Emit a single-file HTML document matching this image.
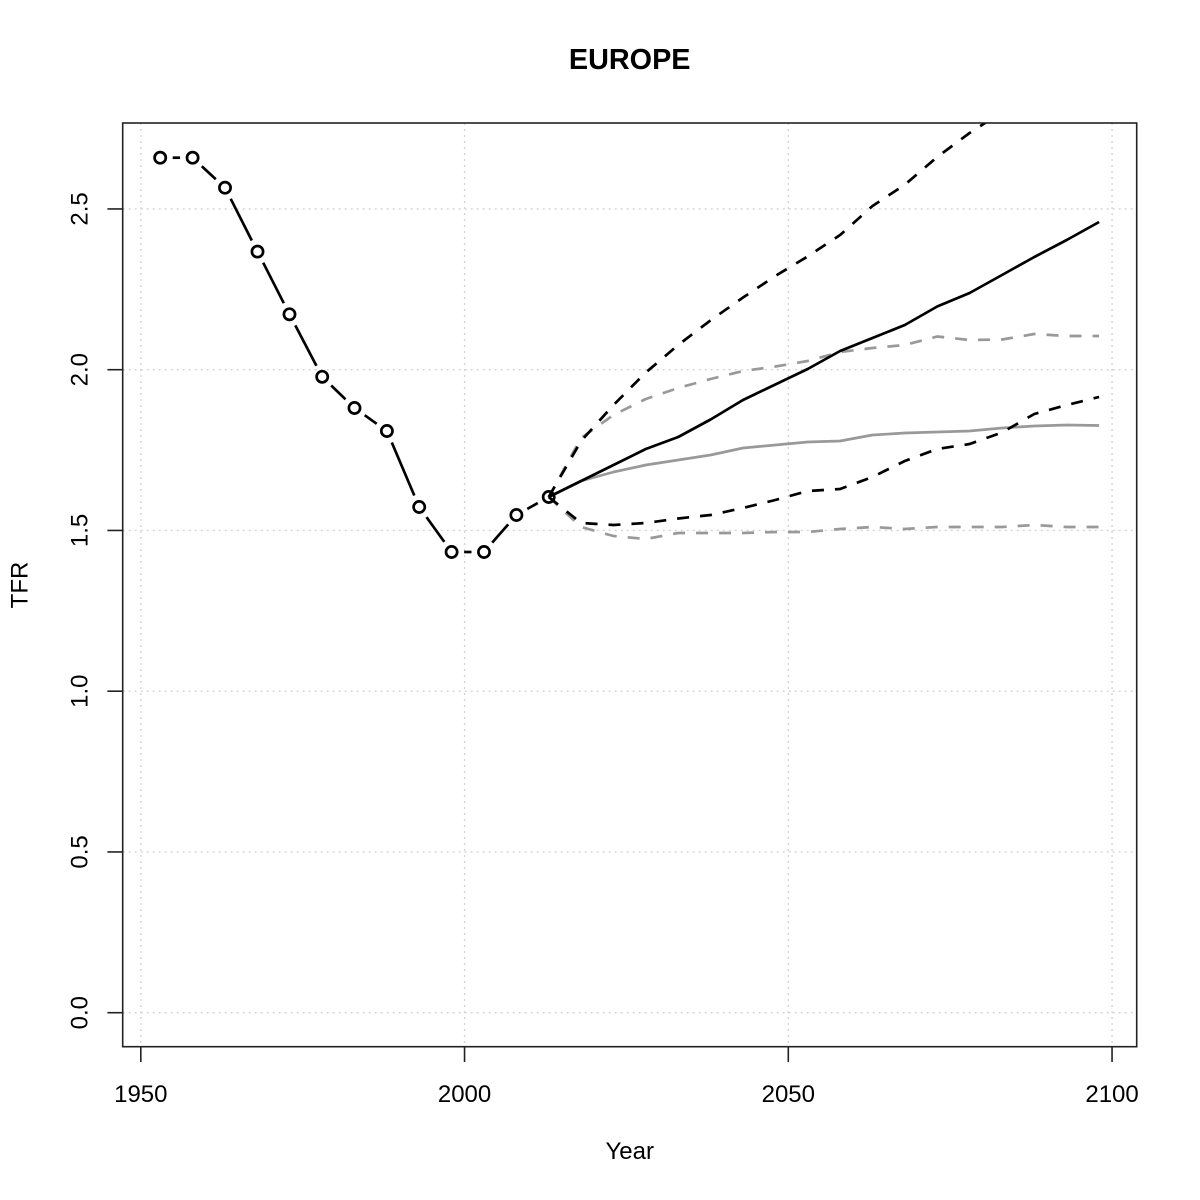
<!DOCTYPE html>
<html>
<head>
<meta charset="utf-8">
<style>
html,body{margin:0;padding:0;background:#fff;}
svg{display:block;}
text{font-family:"Liberation Sans",Arial,sans-serif;fill:#000;}
</style>
</head>
<body>
<svg width="1200" height="1200" viewBox="0 0 1200 1200" xmlns="http://www.w3.org/2000/svg">
<rect x="0" y="0" width="1200" height="1200" fill="#fff"/>
<defs>
<clipPath id="pc"><rect x="122.7" y="123" width="1014" height="923.7"/></clipPath>
</defs>

<!-- grid -->
<g stroke="#d3d3d3" stroke-width="1.3" stroke-dasharray="2 4" fill="none">
<line x1="140.8" y1="123" x2="140.8" y2="1046.7"/>
<line x1="464.55" y1="123" x2="464.55" y2="1046.7"/>
<line x1="788.3" y1="123" x2="788.3" y2="1046.7"/>
<line x1="1112.05" y1="123" x2="1112.05" y2="1046.7"/>
<line x1="122.7" y1="1012.7" x2="1136.7" y2="1012.7"/>
<line x1="122.7" y1="851.95" x2="1136.7" y2="851.95"/>
<line x1="122.7" y1="691.2" x2="1136.7" y2="691.2"/>
<line x1="122.7" y1="530.45" x2="1136.7" y2="530.45"/>
<line x1="122.7" y1="369.7" x2="1136.7" y2="369.7"/>
<line x1="122.7" y1="208.95" x2="1136.7" y2="208.95"/>
</g>

<!-- projections -->
<g clip-path="url(#pc)" fill="none" stroke-width="2.7" stroke-linejoin="round">
<!-- gray solid -->
<polyline stroke="#999" points="548.7,497 581.1,481 613.5,472 645.8,465 678.2,460 710.6,455 743,448 775.3,445 807.7,442 840.1,441 872.5,435 904.8,433 937.2,432 969.6,431 1002,428 1034.3,426 1066.7,425 1099.1,425.5"/>
<!-- gray dashed upper -->
<polyline stroke="#999" stroke-dasharray="12 11" points="548.7,497 581.1,438 613.5,415 645.8,399 678.2,388 710.6,379 743,371 775.3,366.5 807.7,361 840.1,352 872.5,348 904.8,345 937.2,336.5 969.6,340 1002,339.5 1034.3,334 1066.7,336 1099.1,336"/>
<!-- gray dashed lower -->
<polyline stroke="#999" stroke-dasharray="12 11" points="548.7,497 581.1,527 613.5,536 645.8,539 678.2,533 710.6,533 743,533 775.3,532 807.7,532 840.1,529 872.5,527 904.8,529 937.2,527 969.6,527 1002,527 1034.3,525 1066.7,527 1099.1,527"/>
<!-- black median -->
<polyline stroke="#000" points="548.7,497 581.1,481 613.5,465 645.8,449 678.2,437 710.6,419.5 743,400 775.3,384.5 807.7,369 840.1,351 872.5,338 904.8,325 937.2,306.5 969.6,293 1002,275 1034.3,257 1066.7,240 1099.1,222"/>
<!-- black dashed upper -->
<polyline stroke="#000" stroke-dasharray="12 11" points="548.7,497 581.1,441 613.5,405 645.8,372.5 678.2,345 710.6,320.3 743,297.5 775.3,276 807.7,256.4 840.1,235 872.5,206 904.8,184.7 937.2,157 969.6,133 1002,112 1034.3,90 1066.7,68 1099.1,46"/>
<!-- black dashed lower -->
<polyline stroke="#000" stroke-dasharray="12 11" points="548.7,497 581.1,523 613.5,525 645.8,523 678.2,518.5 710.6,515 743,508 775.3,500 807.7,491 840.1,489 872.5,477 904.8,461 937.2,449 969.6,444 1002,432.5 1034.3,414 1066.7,405 1099.1,397"/>
</g>

<!-- observed: segments with gaps (type="b") -->
<g stroke="#000" stroke-width="2.7" fill="none" stroke-linecap="butt">
<line x1="172.7" y1="157.7" x2="180.1" y2="157.7"/>
<line x1="201.8" y1="166.2" x2="215.8" y2="179.2"/>
<line x1="230.7" y1="198.8" x2="251.8" y2="240.5"/>
<line x1="263.2" y1="262.7" x2="283.8" y2="303.2"/>
<line x1="295.3" y1="325.4" x2="316.4" y2="365.7"/>
<line x1="331.2" y1="385.5" x2="345.5" y2="399.3"/>
<line x1="364.7" y1="415.2" x2="376.7" y2="423.8"/>
<line x1="391.8" y1="442.5" x2="414.3" y2="495.5"/>
<line x1="426.5" y1="517.1" x2="444.3" y2="541.9"/>
<line x1="464.1" y1="552" x2="471.5" y2="552"/>
<line x1="492.2" y1="542.6" x2="508.2" y2="524.4"/>
<line x1="527.3" y1="508.9" x2="537.8" y2="503.1"/>
</g>
<g stroke="#000" stroke-width="2.7" fill="none">
<circle cx="160.2" cy="157.7" r="5.6"/>
<circle cx="192.6" cy="157.7" r="5.6"/>
<circle cx="225" cy="187.7" r="5.6"/>
<circle cx="257.5" cy="251.6" r="5.6"/>
<circle cx="289.5" cy="314.3" r="5.6"/>
<circle cx="322.2" cy="376.8" r="5.6"/>
<circle cx="354.5" cy="408" r="5.6"/>
<circle cx="386.9" cy="431" r="5.6"/>
<circle cx="419.2" cy="507" r="5.6"/>
<circle cx="451.6" cy="552" r="5.6"/>
<circle cx="484" cy="552" r="5.6"/>
<circle cx="516.4" cy="515" r="5.6"/>
<circle cx="548.7" cy="497" r="5.6"/>
</g>

<!-- frame -->
<rect x="122.7" y="123" width="1014" height="923.7" fill="none" stroke="#222" stroke-width="1.6"/>

<!-- ticks -->
<g stroke="#222" stroke-width="1.6">
<line x1="140.8" y1="1046.7" x2="140.8" y2="1062"/>
<line x1="464.55" y1="1046.7" x2="464.55" y2="1062"/>
<line x1="788.3" y1="1046.7" x2="788.3" y2="1062"/>
<line x1="1112.05" y1="1046.7" x2="1112.05" y2="1062"/>
<line x1="107.4" y1="1012.7" x2="122.7" y2="1012.7"/>
<line x1="107.4" y1="851.95" x2="122.7" y2="851.95"/>
<line x1="107.4" y1="691.2" x2="122.7" y2="691.2"/>
<line x1="107.4" y1="530.45" x2="122.7" y2="530.45"/>
<line x1="107.4" y1="369.7" x2="122.7" y2="369.7"/>
<line x1="107.4" y1="208.95" x2="122.7" y2="208.95"/>
</g>

<!-- x tick labels -->
<g font-size="24" text-anchor="middle">
<text x="140.8" y="1102">1950</text>
<text x="464.55" y="1102">2000</text>
<text x="788.3" y="1102">2050</text>
<text x="1112.05" y="1102">2100</text>
</g>

<!-- y tick labels -->
<g font-size="24" text-anchor="middle">
<text x="87.5" y="1012.7" transform="rotate(-90 87.5 1012.7)">0.0</text>
<text x="87.5" y="851.95" transform="rotate(-90 87.5 851.95)">0.5</text>
<text x="87.5" y="691.2" transform="rotate(-90 87.5 691.2)">1.0</text>
<text x="87.5" y="530.45" transform="rotate(-90 87.5 530.45)">1.5</text>
<text x="87.5" y="369.7" transform="rotate(-90 87.5 369.7)">2.0</text>
<text x="87.5" y="208.95" transform="rotate(-90 87.5 208.95)">2.5</text>
</g>

<!-- titles -->
<text x="629.7" y="69" font-size="28.8" font-weight="bold" text-anchor="middle">EUROPE</text>
<text x="629.7" y="1159" font-size="24" text-anchor="middle">Year</text>
<text x="27.3" y="585" font-size="24" text-anchor="middle" transform="rotate(-90 27.3 585)">TFR</text>
</svg>
</body>
</html>
